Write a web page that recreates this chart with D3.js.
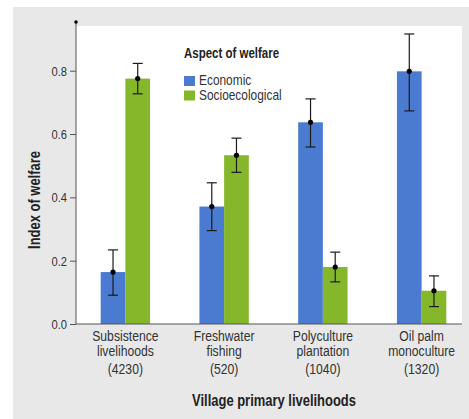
<!DOCTYPE html>
<html>
<head>
<meta charset="utf-8">
<script src="https://cdn.jsdelivr.net/npm/d3@7"></script>
<style>
  body { margin: 0; background: #fff; }
  svg { display: block; font-family: "Liberation Sans", Arial, sans-serif; }
</style>
</head>
<body>
<div id="chart"></div>
<script>
var W = 469, H = 419

// data
var categories = ['Subsistence livelihoods', 'Freshwater fishing', 'Polyculture plantation', 'Oil palm monoculture']
var catLines = [['Subsistence', 'livelihoods', '(4230)'], ['Freshwater', 'fishing', '(520)'], ['Polyculture', 'plantation', '(1040)'], ['Oil palm', 'monoculture', '(1320)']]
var series = ['Economic', 'Socioecological']
var economic = [0.164, 0.371, 0.637, 0.798]
var economicLo = [0.091, 0.295, 0.559, 0.673]
var economicHi = [0.234, 0.446, 0.711, 0.916]
var socio = [0.775, 0.533, 0.180, 0.105]
var socioLo = [0.727, 0.479, 0.133, 0.055]
var socioHi = [0.823, 0.587, 0.227, 0.152]
var yTicks = [0, 0.2, 0.4, 0.6, 0.8]

var colors = ['#4a7bd1', '#85b72b']

var rows = []
categories.forEach(function (c, i) {
  rows.push({ cat: c, s: series[0], v: economic[i], lo: economicLo[i], hi: economicHi[i] })
  rows.push({ cat: c, s: series[1], v: socio[i], lo: socioLo[i], hi: socioHi[i] })
})

// the original uses a condensed face; squeeze the regular one horizontally
function narrowText(parent, x, y, k, str) {
  return parent.append('text')
    .attr('transform', 'translate(' + x + ',' + y + ') scale(' + k + ',1)')
    .text(str)
}

var svg = d3.select('#chart').append('svg')
  .attr('width', W)
  .attr('height', H)

// gray panel + white plot area
svg.append('rect').attr('x', 13).attr('y', 7).attr('width', W - 13).attr('height', H - 7).attr('fill', '#e8e8e8')

var x0 = 76, x1 = 462, yTop = 26
var y = d3.scaleLinear().domain([0, 0.8]).range([324, 70.7])

svg.append('rect')
  .attr('x', x0).attr('y', yTop)
  .attr('width', x1 - x0).attr('height', y(0) - yTop)
  .attr('fill', '#fff')

var x = d3.scaleBand().domain(categories).range([x0, 471]).paddingInner(0.5).paddingOuter(0.25)
var xs = d3.scaleBand().domain(series).range([0, x.bandwidth()])
var color = d3.scaleOrdinal().domain(series).range(colors)

// bars
svg.selectAll('.bar')
  .data(rows)
  .enter()
  .append('rect')
  .attr('class', 'bar')
  .attr('x', function (d) { return x(d.cat) + xs(d.s) })
  .attr('width', xs.bandwidth())
  .attr('y', function (d) { return y(d.v) })
  .attr('height', function (d) { return y(0) - y(d.v) })
  .attr('fill', function (d) { return color(d.s) })

// error bars
var eb = svg.selectAll('.err')
  .data(rows)
  .enter()
  .append('g')
  .attr('class', 'err')
  .attr('transform', function (d) { return 'translate(' + (x(d.cat) + xs(d.s) + xs.bandwidth() / 2) + ',0)' })
  .attr('stroke', '#1a1a1a')
  .attr('stroke-width', 1.2)

eb.append('line').attr('y1', function (d) { return y(d.lo) }).attr('y2', function (d) { return y(d.hi) })
eb.append('line').attr('x1', -5).attr('x2', 5).attr('y1', function (d) { return y(d.lo) }).attr('y2', function (d) { return y(d.lo) })
eb.append('line').attr('x1', -5).attr('x2', 5).attr('y1', function (d) { return y(d.hi) }).attr('y2', function (d) { return y(d.hi) })
eb.append('circle').attr('r', 2.6).attr('cy', function (d) { return y(d.v) }).attr('fill', '#000').attr('stroke', 'none')

// y axis
var yAxis = d3.axisLeft(y).tickValues(yTicks).tickFormat(d3.format('.1f')).tickSize(6)
var gy = svg.append('g')
  .attr('transform', 'translate(' + x0 + ',0)')
  .call(yAxis)
gy.select('.domain').remove()
gy.selectAll('.tick line').attr('stroke', '#555')
gy.selectAll('.tick text')
  .attr('font-size', 13.5).attr('fill', '#333').style('font-family', 'inherit')
  .attr('x', -9 / 0.83)
  .attr('transform', 'scale(0.83,1)')
svg.append('line').attr('x1', x0).attr('x2', x0).attr('y1', 22).attr('y2', y(0)).attr('stroke', '#555')
svg.append('circle').attr('cx', x0).attr('cy', 22).attr('r', 1.8).attr('fill', '#000')

// x axis baseline
svg.append('line').attr('x1', x0).attr('x2', x1).attr('y1', y(0)).attr('y2', y(0)).attr('stroke', '#555')

// x labels
var lineY = [340.5, 356, 374]
categories.forEach(function (c, i) {
  var cx = x(c) + x.bandwidth() / 2
  catLines[i].forEach(function (s, j) {
    narrowText(svg, cx, lineY[j], 0.87, s)
      .attr('class', 'xlab')
      .attr('text-anchor', 'middle')
      .attr('font-size', 14)
      .attr('fill', '#333')
  })
})

// axis titles
narrowText(svg, 274, 406, 0.81, 'Village primary livelihoods')
  .attr('text-anchor', 'middle')
  .attr('font-size', 16).attr('font-weight', 'bold').attr('fill', '#222')

svg.append('text')
  .attr('transform', 'translate(40,200) rotate(-90) scale(0.81,1)')
  .attr('text-anchor', 'middle')
  .attr('font-size', 16).attr('font-weight', 'bold').attr('fill', '#222')
  .text('Index of welfare')

// legend
var lg = svg.append('g')
narrowText(lg, 184, 58, 0.82, 'Aspect of welfare')
  .attr('font-size', 14).attr('font-weight', 'bold').attr('fill', '#222')
series.forEach(function (s, i) {
  lg.append('rect').attr('x', 184).attr('y', 76 + i * 14.5).attr('width', 11).attr('height', 10).attr('fill', color(s))
  narrowText(lg, 199, 85 + i * 14.5, 0.85, s)
    .attr('font-size', 14).attr('fill', '#333')
})
</script>
</body>
</html>
